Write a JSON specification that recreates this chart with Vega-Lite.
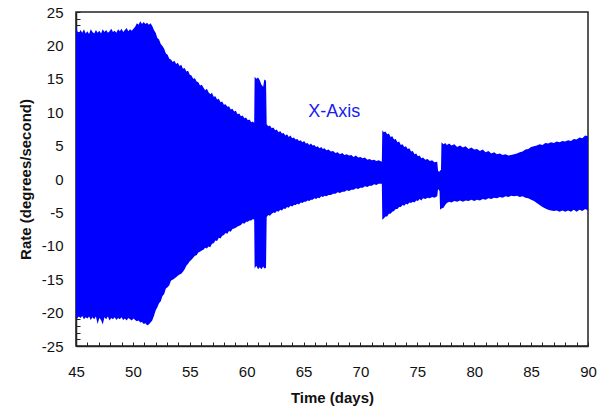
{
  "$schema": "https://vega.github.io/schema/vega-lite/v6.json",
  "width": 512,
  "height": 334,
  "autosize": {"type": "none"},
  "padding": {"left": 76, "top": 12, "right": 18, "bottom": 67},
  "background": "white",
  "config": {
    "view": {"stroke": "#222", "strokeWidth": 1.5},
    "font": "Liberation Sans",
    "axis": {
      "grid": false,
      "domainColor": "#222",
      "domainWidth": 1.5,
      "tickColor": "#222",
      "tickWidth": 1,
      "tickSize": -4,
      "tickCount": 200,
      "format": "d",
      "labelFont": "Liberation Sans",
      "labelFontSize": 15,
      "labelColor": "#111",
      "labelOverlap": false,
      "titleFont": "Liberation Sans",
      "titleFontSize": 15,
      "titleFontWeight": "bold",
      "titleColor": "#111"
    }
  },
  "layer": [
    {
      "data": {"values": [
        {"t": 45.0, "hi": 22.9, "lo": -20.6},
        {"t": 45.1, "hi": 22.2, "lo": -20.9},
        {"t": 45.25, "hi": 21.8, "lo": -20.6},
        {"t": 45.4, "hi": 22.3, "lo": -20.8},
        {"t": 45.55, "hi": 21.9, "lo": -20.5},
        {"t": 45.7, "hi": 22.4, "lo": -21.0},
        {"t": 45.85, "hi": 21.8, "lo": -20.7},
        {"t": 46.0, "hi": 22.1, "lo": -20.9},
        {"t": 46.15, "hi": 21.7, "lo": -20.6},
        {"t": 46.3, "hi": 22.4, "lo": -21.1},
        {"t": 46.45, "hi": 22.0, "lo": -20.7},
        {"t": 46.6, "hi": 21.8, "lo": -21.0},
        {"t": 46.75, "hi": 22.3, "lo": -20.6},
        {"t": 46.9, "hi": 21.9, "lo": -21.7},
        {"t": 47.05, "hi": 22.2, "lo": -20.8},
        {"t": 47.2, "hi": 21.8, "lo": -21.1},
        {"t": 47.35, "hi": 22.4, "lo": -21.8},
        {"t": 47.5, "hi": 22.0, "lo": -20.7},
        {"t": 47.65, "hi": 22.3, "lo": -21.0},
        {"t": 47.8, "hi": 21.9, "lo": -20.6},
        {"t": 47.95, "hi": 22.1, "lo": -21.2},
        {"t": 48.1, "hi": 22.5, "lo": -20.8},
        {"t": 48.25, "hi": 22.0, "lo": -21.0},
        {"t": 48.4, "hi": 22.2, "lo": -20.7},
        {"t": 48.55, "hi": 21.9, "lo": -21.1},
        {"t": 48.7, "hi": 22.4, "lo": -20.8},
        {"t": 48.85, "hi": 22.1, "lo": -21.0},
        {"t": 49.0, "hi": 22.5, "lo": -20.7},
        {"t": 49.15, "hi": 22.0, "lo": -21.1},
        {"t": 49.3, "hi": 22.3, "lo": -20.9},
        {"t": 49.45, "hi": 22.6, "lo": -21.2},
        {"t": 49.6, "hi": 22.1, "lo": -20.8},
        {"t": 49.75, "hi": 22.4, "lo": -21.0},
        {"t": 49.9, "hi": 22.2, "lo": -21.2},
        {"t": 50.05, "hi": 22.5, "lo": -20.9},
        {"t": 50.2, "hi": 22.8, "lo": -21.1},
        {"t": 50.35, "hi": 23.3, "lo": -21.3},
        {"t": 50.5, "hi": 23.1, "lo": -21.2},
        {"t": 50.65, "hi": 23.6, "lo": -21.5},
        {"t": 50.8, "hi": 23.2, "lo": -21.4},
        {"t": 50.95, "hi": 23.5, "lo": -21.7},
        {"t": 51.1, "hi": 23.2, "lo": -21.6},
        {"t": 51.25, "hi": 23.4, "lo": -21.9},
        {"t": 51.4, "hi": 23.1, "lo": -21.8},
        {"t": 51.55, "hi": 23.3, "lo": -21.5},
        {"t": 51.7, "hi": 22.9, "lo": -21.2},
        {"t": 51.85, "hi": 22.3, "lo": -20.5},
        {"t": 52.0, "hi": 21.9, "lo": -19.7},
        {"t": 52.15, "hi": 21.1, "lo": -19.2},
        {"t": 52.3, "hi": 20.9, "lo": -18.6},
        {"t": 52.45, "hi": 20.2, "lo": -18.3},
        {"t": 52.6, "hi": 19.9, "lo": -17.5},
        {"t": 52.75, "hi": 19.5, "lo": -17.2},
        {"t": 52.9, "hi": 18.8, "lo": -16.4},
        {"t": 53.05, "hi": 18.6, "lo": -16.2},
        {"t": 53.2, "hi": 18.0, "lo": -15.9},
        {"t": 53.35, "hi": 17.9, "lo": -15.2},
        {"t": 53.5, "hi": 17.5, "lo": -15.1},
        {"t": 53.65, "hi": 17.7, "lo": -14.9},
        {"t": 53.8, "hi": 17.2, "lo": -14.7},
        {"t": 53.95, "hi": 17.4, "lo": -14.5},
        {"t": 54.1, "hi": 16.9, "lo": -14.3},
        {"t": 54.25, "hi": 17.1, "lo": -14.2},
        {"t": 54.4, "hi": 16.5, "lo": -13.9},
        {"t": 54.55, "hi": 16.6, "lo": -13.5},
        {"t": 54.7, "hi": 16.1, "lo": -13.0},
        {"t": 54.85, "hi": 16.2, "lo": -12.7},
        {"t": 55.0, "hi": 15.6, "lo": -12.3},
        {"t": 55.15, "hi": 15.5, "lo": -12.1},
        {"t": 55.3, "hi": 15.0, "lo": -11.8},
        {"t": 55.45, "hi": 15.1, "lo": -11.5},
        {"t": 55.6, "hi": 14.6, "lo": -11.4},
        {"t": 55.75, "hi": 14.5, "lo": -11.0},
        {"t": 55.9, "hi": 14.0, "lo": -10.9},
        {"t": 56.05, "hi": 14.1, "lo": -10.7},
        {"t": 56.2, "hi": 13.7, "lo": -10.6},
        {"t": 56.35, "hi": 13.3, "lo": -10.3},
        {"t": 56.5, "hi": 13.5, "lo": -10.4},
        {"t": 56.65, "hi": 13.0, "lo": -10.1},
        {"t": 56.8, "hi": 12.7, "lo": -10.2},
        {"t": 56.95, "hi": 12.9, "lo": -9.7},
        {"t": 57.1, "hi": 12.3, "lo": -9.6},
        {"t": 57.25, "hi": 12.4, "lo": -9.2},
        {"t": 57.4, "hi": 11.9, "lo": -9.3},
        {"t": 57.55, "hi": 12.0, "lo": -8.8},
        {"t": 57.7, "hi": 11.5, "lo": -8.9},
        {"t": 57.85, "hi": 11.6, "lo": -8.5},
        {"t": 58.0, "hi": 11.1, "lo": -8.4},
        {"t": 58.15, "hi": 11.2, "lo": -8.1},
        {"t": 58.3, "hi": 10.8, "lo": -8.2},
        {"t": 58.45, "hi": 10.9, "lo": -7.8},
        {"t": 58.6, "hi": 10.4, "lo": -7.9},
        {"t": 58.75, "hi": 10.5, "lo": -7.5},
        {"t": 58.9, "hi": 10.1, "lo": -7.4},
        {"t": 59.05, "hi": 10.2, "lo": -7.3},
        {"t": 59.2, "hi": 9.7, "lo": -7.1},
        {"t": 59.35, "hi": 9.8, "lo": -7.0},
        {"t": 59.5, "hi": 9.4, "lo": -6.9},
        {"t": 59.65, "hi": 9.5, "lo": -6.6},
        {"t": 59.8, "hi": 9.1, "lo": -6.7},
        {"t": 59.95, "hi": 9.2, "lo": -6.4},
        {"t": 60.1, "hi": 8.8, "lo": -6.4},
        {"t": 60.25, "hi": 8.9, "lo": -6.2},
        {"t": 60.4, "hi": 8.5, "lo": -6.2},
        {"t": 60.55, "hi": 8.6, "lo": -6.0},
        {"t": 60.66, "hi": 8.4, "lo": -6.1},
        {"t": 60.7, "hi": 15.3, "lo": -13.4},
        {"t": 60.85, "hi": 15.0, "lo": -13.0},
        {"t": 61.0, "hi": 15.2, "lo": -13.5},
        {"t": 61.15, "hi": 14.8, "lo": -13.2},
        {"t": 61.3, "hi": 14.1, "lo": -13.5},
        {"t": 61.45, "hi": 13.8, "lo": -13.1},
        {"t": 61.55, "hi": 14.9, "lo": -13.4},
        {"t": 61.7, "hi": 14.7, "lo": -13.3},
        {"t": 61.76, "hi": 8.2, "lo": -5.7},
        {"t": 61.9, "hi": 7.9, "lo": -5.4},
        {"t": 62.05, "hi": 8.0, "lo": -5.5},
        {"t": 62.2, "hi": 7.6, "lo": -5.2},
        {"t": 62.35, "hi": 7.7, "lo": -5.0},
        {"t": 62.5, "hi": 7.3, "lo": -5.1},
        {"t": 62.65, "hi": 7.4, "lo": -4.8},
        {"t": 62.8, "hi": 7.0, "lo": -4.9},
        {"t": 62.95, "hi": 7.2, "lo": -4.6},
        {"t": 63.1, "hi": 6.8, "lo": -4.7},
        {"t": 63.25, "hi": 6.9, "lo": -4.4},
        {"t": 63.4, "hi": 6.5, "lo": -4.5},
        {"t": 63.55, "hi": 6.7, "lo": -4.2},
        {"t": 63.7, "hi": 6.3, "lo": -4.3},
        {"t": 63.85, "hi": 6.5, "lo": -4.0},
        {"t": 64.0, "hi": 6.1, "lo": -4.1},
        {"t": 64.15, "hi": 6.2, "lo": -3.9},
        {"t": 64.3, "hi": 5.9, "lo": -3.9},
        {"t": 64.45, "hi": 6.0, "lo": -3.7},
        {"t": 64.6, "hi": 5.7, "lo": -3.8},
        {"t": 64.75, "hi": 5.8, "lo": -3.5},
        {"t": 64.9, "hi": 5.5, "lo": -3.6},
        {"t": 65.05, "hi": 5.7, "lo": -3.4},
        {"t": 65.2, "hi": 5.3, "lo": -3.4},
        {"t": 65.35, "hi": 5.4, "lo": -3.2},
        {"t": 65.5, "hi": 5.1, "lo": -3.3},
        {"t": 65.65, "hi": 5.3, "lo": -3.1},
        {"t": 65.8, "hi": 5.0, "lo": -3.1},
        {"t": 65.95, "hi": 5.1, "lo": -2.9},
        {"t": 66.1, "hi": 4.8, "lo": -3.0},
        {"t": 66.25, "hi": 4.9, "lo": -2.8},
        {"t": 66.4, "hi": 4.6, "lo": -2.9},
        {"t": 66.55, "hi": 4.8, "lo": -2.6},
        {"t": 66.7, "hi": 4.5, "lo": -2.7},
        {"t": 66.85, "hi": 4.6, "lo": -2.5},
        {"t": 67.0, "hi": 4.3, "lo": -2.6},
        {"t": 67.2, "hi": 4.4, "lo": -2.4},
        {"t": 67.4, "hi": 4.1, "lo": -2.4},
        {"t": 67.6, "hi": 4.2, "lo": -2.2},
        {"t": 67.8, "hi": 3.9, "lo": -2.2},
        {"t": 68.0, "hi": 4.0, "lo": -2.0},
        {"t": 68.2, "hi": 3.7, "lo": -2.1},
        {"t": 68.4, "hi": 3.9, "lo": -1.9},
        {"t": 68.6, "hi": 3.6, "lo": -1.9},
        {"t": 68.8, "hi": 3.7, "lo": -1.7},
        {"t": 69.0, "hi": 3.5, "lo": -1.8},
        {"t": 69.2, "hi": 3.6, "lo": -1.6},
        {"t": 69.4, "hi": 3.3, "lo": -1.6},
        {"t": 69.6, "hi": 3.5, "lo": -1.4},
        {"t": 69.8, "hi": 3.2, "lo": -1.5},
        {"t": 70.0, "hi": 3.3, "lo": -1.3},
        {"t": 70.2, "hi": 3.1, "lo": -1.3},
        {"t": 70.4, "hi": 3.2, "lo": -1.1},
        {"t": 70.6, "hi": 2.9, "lo": -1.2},
        {"t": 70.8, "hi": 3.0, "lo": -1.0},
        {"t": 71.0, "hi": 2.8, "lo": -1.0},
        {"t": 71.2, "hi": 2.9, "lo": -0.8},
        {"t": 71.4, "hi": 2.7, "lo": -0.9},
        {"t": 71.6, "hi": 2.8, "lo": -0.7},
        {"t": 71.88, "hi": 2.6, "lo": -0.7},
        {"t": 71.92, "hi": 7.3, "lo": -6.1},
        {"t": 72.05, "hi": 7.0, "lo": -5.9},
        {"t": 72.2, "hi": 7.1, "lo": -5.6},
        {"t": 72.35, "hi": 6.7, "lo": -5.6},
        {"t": 72.5, "hi": 6.8, "lo": -5.2},
        {"t": 72.65, "hi": 6.3, "lo": -5.2},
        {"t": 72.8, "hi": 6.4, "lo": -4.9},
        {"t": 72.95, "hi": 5.9, "lo": -4.8},
        {"t": 73.1, "hi": 6.0, "lo": -4.5},
        {"t": 73.25, "hi": 5.5, "lo": -4.5},
        {"t": 73.4, "hi": 5.6, "lo": -4.2},
        {"t": 73.55, "hi": 5.1, "lo": -4.2},
        {"t": 73.7, "hi": 5.2, "lo": -3.9},
        {"t": 73.85, "hi": 4.8, "lo": -4.0},
        {"t": 74.0, "hi": 4.9, "lo": -3.7},
        {"t": 74.15, "hi": 4.5, "lo": -3.8},
        {"t": 74.3, "hi": 4.6, "lo": -3.5},
        {"t": 74.45, "hi": 4.1, "lo": -3.6},
        {"t": 74.6, "hi": 4.2, "lo": -3.4},
        {"t": 74.75, "hi": 3.7, "lo": -3.5},
        {"t": 74.9, "hi": 3.8, "lo": -3.2},
        {"t": 75.05, "hi": 3.4, "lo": -3.3},
        {"t": 75.2, "hi": 3.5, "lo": -3.0},
        {"t": 75.35, "hi": 3.1, "lo": -3.2},
        {"t": 75.5, "hi": 3.2, "lo": -2.9},
        {"t": 75.7, "hi": 2.9, "lo": -3.0},
        {"t": 75.9, "hi": 3.0, "lo": -2.8},
        {"t": 76.1, "hi": 2.7, "lo": -2.9},
        {"t": 76.3, "hi": 2.8, "lo": -2.7},
        {"t": 76.5, "hi": 2.5, "lo": -2.8},
        {"t": 76.75, "hi": 2.6, "lo": -2.6},
        {"t": 76.82, "hi": 1.2, "lo": -1.5},
        {"t": 76.95, "hi": 1.1, "lo": -1.8},
        {"t": 77.0, "hi": 1.3, "lo": -4.6},
        {"t": 77.08, "hi": 1.3, "lo": -4.5},
        {"t": 77.12, "hi": 5.5, "lo": -4.4},
        {"t": 77.3, "hi": 5.2, "lo": -4.3},
        {"t": 77.45, "hi": 5.4, "lo": -3.9},
        {"t": 77.6, "hi": 5.1, "lo": -3.6},
        {"t": 77.8, "hi": 5.3, "lo": -3.4},
        {"t": 78.0, "hi": 5.0, "lo": -3.5},
        {"t": 78.25, "hi": 5.2, "lo": -3.3},
        {"t": 78.5, "hi": 4.8, "lo": -3.4},
        {"t": 78.75, "hi": 5.0, "lo": -3.2},
        {"t": 79.0, "hi": 4.7, "lo": -3.4},
        {"t": 79.25, "hi": 4.9, "lo": -3.2},
        {"t": 79.5, "hi": 4.5, "lo": -3.3},
        {"t": 79.75, "hi": 4.7, "lo": -3.1},
        {"t": 80.0, "hi": 4.4, "lo": -3.3},
        {"t": 80.25, "hi": 4.5, "lo": -3.1},
        {"t": 80.5, "hi": 4.2, "lo": -3.2},
        {"t": 80.75, "hi": 4.4, "lo": -3.0},
        {"t": 81.0, "hi": 4.0, "lo": -3.1},
        {"t": 81.25, "hi": 4.2, "lo": -2.9},
        {"t": 81.5, "hi": 3.8, "lo": -3.0},
        {"t": 81.75, "hi": 4.0, "lo": -2.8},
        {"t": 82.0, "hi": 3.7, "lo": -2.9},
        {"t": 82.25, "hi": 3.8, "lo": -2.7},
        {"t": 82.5, "hi": 3.6, "lo": -2.8},
        {"t": 82.75, "hi": 3.7, "lo": -2.6},
        {"t": 83.0, "hi": 3.5, "lo": -2.7},
        {"t": 83.25, "hi": 3.6, "lo": -2.5},
        {"t": 83.5, "hi": 3.7, "lo": -2.6},
        {"t": 83.75, "hi": 3.8, "lo": -2.5},
        {"t": 84.0, "hi": 4.0, "lo": -2.7},
        {"t": 84.25, "hi": 4.1, "lo": -2.6},
        {"t": 84.5, "hi": 4.4, "lo": -2.8},
        {"t": 84.75, "hi": 4.5, "lo": -2.9},
        {"t": 85.0, "hi": 4.8, "lo": -3.1},
        {"t": 85.25, "hi": 4.9, "lo": -3.3},
        {"t": 85.5, "hi": 5.0, "lo": -3.6},
        {"t": 85.75, "hi": 5.2, "lo": -3.9},
        {"t": 86.0, "hi": 5.1, "lo": -4.2},
        {"t": 86.25, "hi": 5.4, "lo": -4.4},
        {"t": 86.5, "hi": 5.3, "lo": -4.6},
        {"t": 86.75, "hi": 5.5, "lo": -4.7},
        {"t": 87.0, "hi": 5.4, "lo": -4.8},
        {"t": 87.25, "hi": 5.6, "lo": -4.7},
        {"t": 87.5, "hi": 5.5, "lo": -4.9},
        {"t": 87.75, "hi": 5.7, "lo": -4.7},
        {"t": 88.0, "hi": 5.6, "lo": -4.9},
        {"t": 88.25, "hi": 5.8, "lo": -4.7},
        {"t": 88.5, "hi": 5.7, "lo": -4.9},
        {"t": 88.75, "hi": 6.0, "lo": -4.6},
        {"t": 89.0, "hi": 5.9, "lo": -4.9},
        {"t": 89.25, "hi": 6.2, "lo": -4.6},
        {"t": 89.5, "hi": 6.1, "lo": -4.8},
        {"t": 89.75, "hi": 6.5, "lo": -4.5},
        {"t": 90.0, "hi": 6.4, "lo": -4.7}
      ]},
      "mark": {"type": "area", "color": "#0000ff", "interpolate": "linear"},
      "encoding": {
        "x": {
          "field": "t", "type": "quantitative",
          "scale": {"domain": [45, 90], "nice": false, "zero": false},
          "axis": {
            "title": "Time (days)",
            "values": [45,46,47,48,49,50,51,52,53,54,55,56,57,58,59,60,61,62,63,64,65,66,67,68,69,70,71,72,73,74,75,76,77,78,79,80,81,82,83,84,85,86,87,88,89,90],
            "tickCount": 200,
            "format": "d",
            "labelExpr": "datum.value % 5 === 0 ? datum.label : ''",
            "labelPadding": 22,
            "labelFlush": false,
            "labelOverlap": false,
            "titlePadding": 11
          }
        },
        "y": {
          "field": "hi", "type": "quantitative",
          "scale": {"domain": [-25, 25], "nice": false, "zero": false},
          "axis": {
            "title": "Rate (degrees/second)",
            "values": [-25,-24,-23,-22,-21,-20,-19,-18,-17,-16,-15,-14,-13,-12,-11,-10,-9,-8,-7,-6,-5,-4,-3,-2,-1,0,1,2,3,4,5,6,7,8,9,10,11,12,13,14,15,16,17,18,19,20,21,22,23,24,25],
            "tickCount": 200,
            "format": "d",
            "labelExpr": "datum.value % 5 === 0 ? replace(datum.label, '\u2212', '-') : ''",
            "labelPadding": 17,
            "labelFlush": false,
            "labelOverlap": false,
            "titlePadding": 8
          }
        },
        "y2": {"field": "lo"}
      }
    },
    {
      "data": {"values": [{"t": 67.7, "v": 10, "label": "X-Axis"}]},
      "mark": {"type": "text", "color": "#1a1aee", "fontSize": 18, "font": "Liberation Sans", "align": "center", "baseline": "middle"},
      "encoding": {
        "x": {"field": "t", "type": "quantitative"},
        "y": {"field": "v", "type": "quantitative"},
        "text": {"field": "label"}
      }
    }
  ]
}
